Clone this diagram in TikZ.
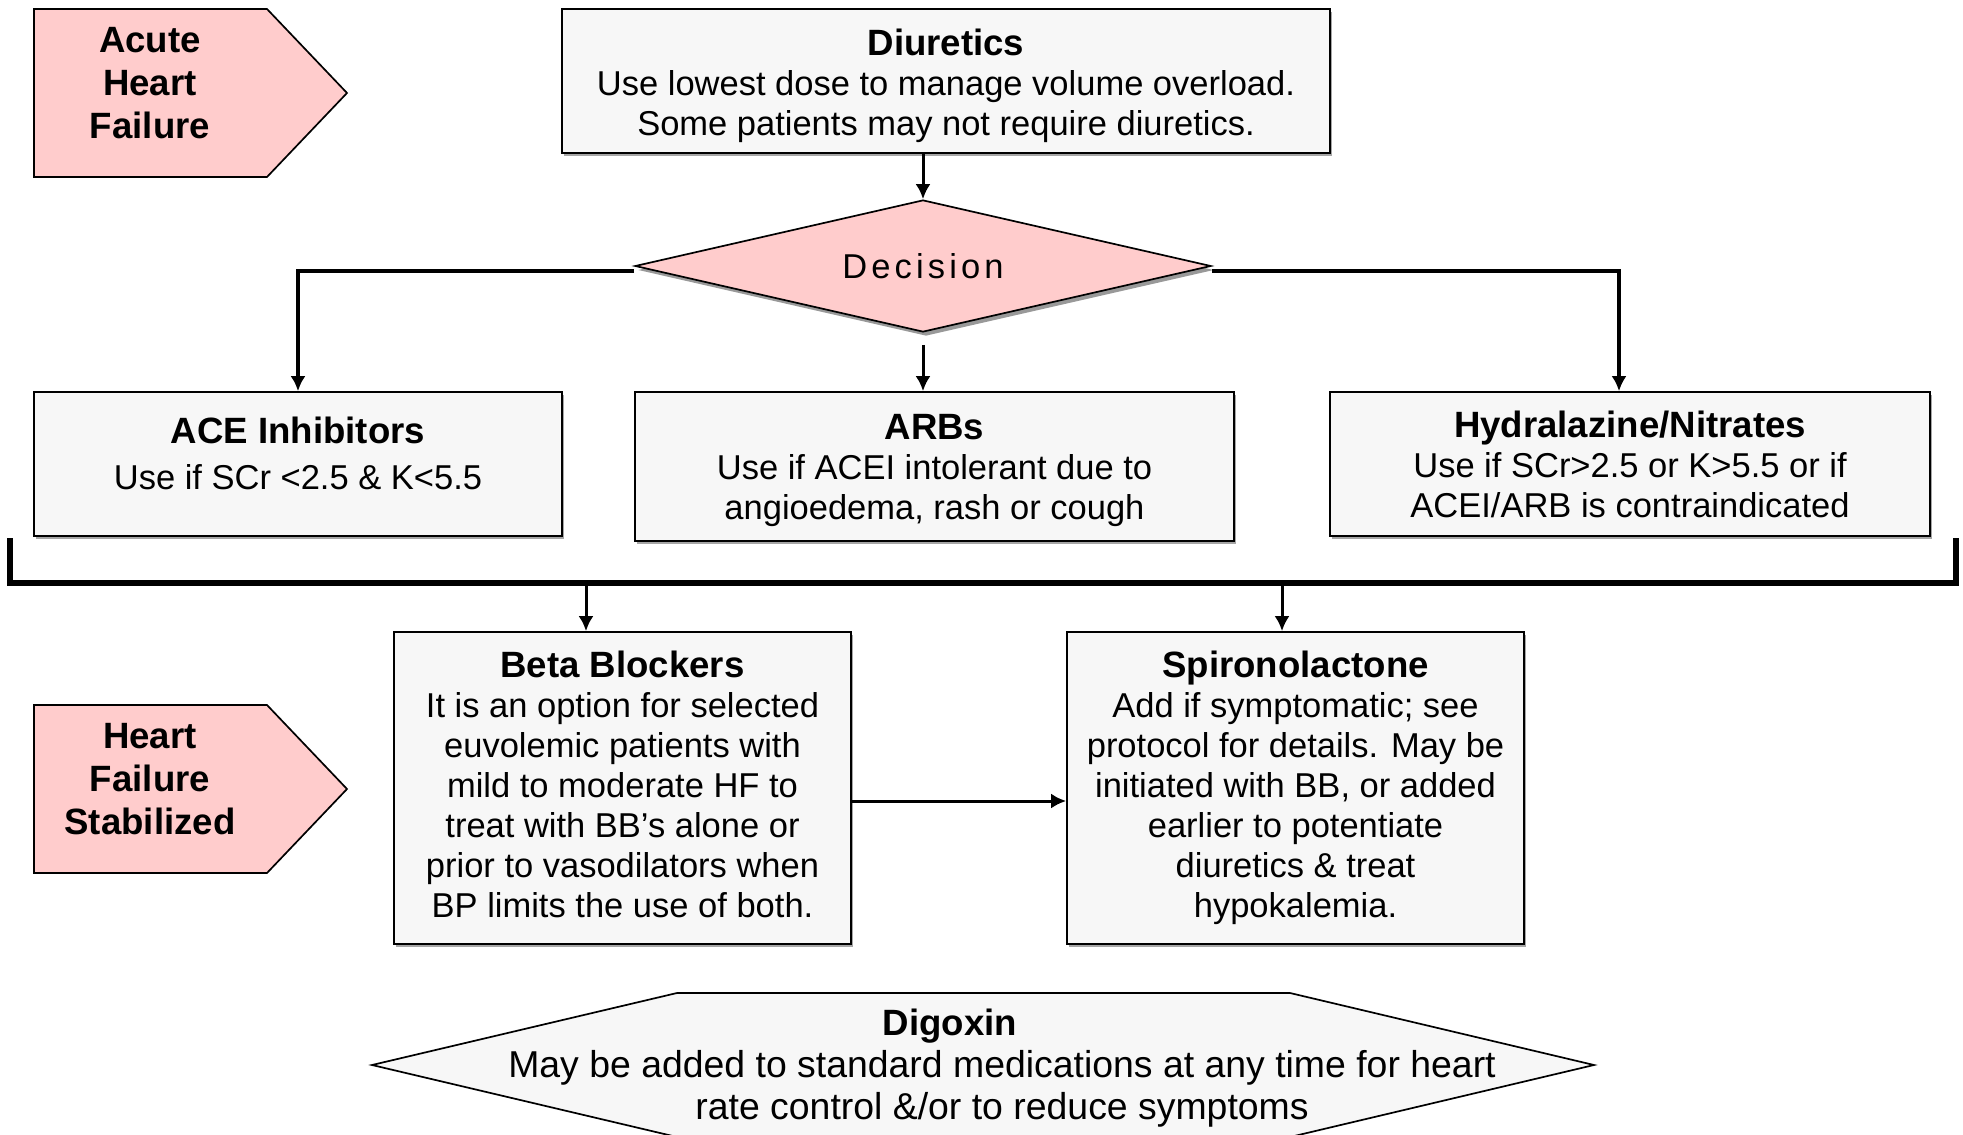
\documentclass[tikz,border=0pt]{standalone}
\usepackage{fontspec}
\setmainfont{Liberation Sans}
\usetikzlibrary{shapes.geometric,arrows.meta,shadows}
\definecolor{boxgray}{HTML}{F7F7F7}
\definecolor{stagepink}{HTML}{FFCCCC}
\newcommand{\hfbody}{\fontsize{17.25}{20}\selectfont}
\newcommand{\hfhead}{\bfseries\fontsize{18.3}{20}\selectfont}
\newcommand{\hfbig}{\fontsize{18.7}{21}\selectfont}

\begin{document}
\begin{tikzpicture}[x=0.5pt,y=-0.5pt]
\tikzset{medbox/.style={draw, line width=0.85pt, fill=boxgray, inner sep=0, align=center, font=\hfbody,
    drop shadow={shadow xshift=1pt, shadow yshift=-1.5pt, fill=gray!70, opacity=1}},
  stage/.style={draw, line width=0.85pt, fill=stagepink},
  stagetext/.style={align=center, font=\hfhead, inner sep=0},
  arr/.style={line width=1.5pt, -{Latex[length=7.5pt,width=7.5pt]}},
  branch/.style={line width=1.9pt},
  bracket/.style={line width=2.6pt}}
\clip (0,0) rectangle (1963,1134);
\draw[stage] (34,9) -- (267,9) -- (347,93) -- (267,177) -- (34,177) -- cycle;
\node[stagetext] (acute) at (150,83) {Acute\\[1.5pt]Heart\\[1.5pt]Failure};
\draw[stage] (34,705) -- (267,705) -- (347,789) -- (267,873) -- (34,873) -- cycle;
\node[stagetext] (stable) at (150,779) {Heart\\[1.5pt]Failure\\[1.5pt]Stabilized};
\node[medbox, minimum width=384pt, minimum height=72pt] (diuretics) at (946,81)
  {{\hfhead\rule{0pt}{18.5pt}Diuretics}\\Use lowest dose to manage volume overload.\\Some patients may not require diuretics.};
\node[draw, diamond, shape aspect=4.36, line width=0.85pt, fill=stagepink, minimum width=288pt, minimum height=66pt, inner sep=0,
  font=\hfbody\addfontfeature{LetterSpace=12},
  drop shadow={shadow xshift=1.5pt, shadow yshift=-2pt, fill=gray!80, opacity=1}] (decision) at (923,266) {Decision};
\node[medbox, minimum width=264pt, minimum height=72pt] (ace) at (298,464)
  {{\hfhead ACE Inhibitors}\\[3pt]Use if SCr <2.5 \& K<5.5\rule[-11pt]{0pt}{0pt}};
\node[medbox, minimum width=299.5pt, minimum height=74.5pt] (arb) at (934.5,466.5)
  {{\hfhead\rule{0pt}{17pt}ARBs}\\Use if ACEI intolerant due to\\angioedema, rash or cough};
\node[medbox, minimum width=300pt, minimum height=72pt] (hydral) at (1630,464)
  {{\hfhead Hydralazine/Nitrates}\\Use if SCr>2.5 or K>5.5 or if\\ACEI/ARB is contraindicated};
\node[medbox, minimum width=228.5pt, minimum height=156pt] (beta) at (622.5,788)
  {{\hfhead Beta Blockers}\\It is an option for selected\\euvolemic patients with\\mild to moderate HF to\\treat with BB’s alone or\\prior to vasodilators when\\BP limits the use of both.\rule[-4pt]{0pt}{0pt}};
\node[medbox, minimum width=228.5pt, minimum height=156pt] (spiro) at (1295.5,788)
  {{\hfhead Spironolactone}\\Add if symptomatic; see\\protocol for details. May be\\initiated with BB, or added\\earlier to potentiate\\diuretics \& treat\\hypokalemia.};
\draw[line width=0.85pt, fill=boxgray] (372,1065) -- (677,993) -- (1290,993) -- (1594,1065) -- (1290,1137) -- (677,1137) -- cycle;
\node[align=center, font=\hfbig, inner sep=0] (digoxin) at (1002,1068)
  {{\hfhead Digoxin}\hspace*{52pt}\\May be added to standard medications at any time for heart\\rate control \&/or to reduce symptoms};
\coordinate (brL) at (10,538);
\coordinate (brB) at (10,583);
\coordinate (brR) at (1956,538);
\coordinate (jB) at (586,583);
\coordinate (jS) at (1282,583);
\draw[arr] (decision.north |- diuretics.south) -- (decision.north);
\draw[arr, branch] ([yshift=-2.5pt]decision.west) -| (ace.north);
\draw[arr, branch] ([yshift=-2.5pt]decision.east) -| ([xshift=-5.5pt]hydral.north);
\draw[arr] ([yshift=-6pt]decision.south) -- (decision.south |- arb.north);
\draw[bracket] (brL) -- (brB) -| (brR);
\draw[arr] (jB) -- (jB |- beta.north);
\draw[arr] (jS) -- (jS |- spiro.north);
\draw[arr] ([yshift=-6.5pt]beta.east) -- ([yshift=-6.5pt]spiro.west);
\end{tikzpicture}
\end{document}
